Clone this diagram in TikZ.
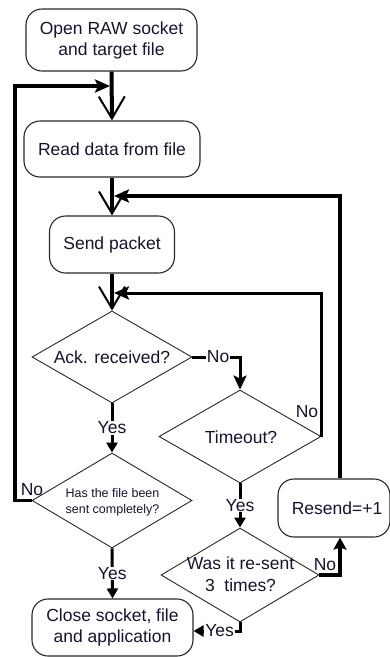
\documentclass[tikz,border=0pt]{standalone}
\usepackage{fontspec}
\setmainfont{Liberation Sans}
\usetikzlibrary{shapes.geometric,arrows.meta}
\definecolor{txtc}{RGB}{20,20,48}
\definecolor{edgec}{RGB}{40,40,40}
\begin{document}
\begin{tikzpicture}[x=1pt,y=-1pt,
  box/.style={draw=edgec,line width=1.1pt,rounded corners=16pt,align=center,inner sep=0pt,text=txtc,font=\fontsize{17.5}{21}\selectfont},
  dia/.style={draw=edgec,line width=0.9pt,diamond,inner sep=0pt},
  dtxt/.style={align=center,text=txtc,inner sep=0pt,font=\fontsize{17.5}{22}\selectfont},
  lbl/.style={text=txtc,fill=white,inner sep=0.8pt,font=\fontsize{17.5}{21}\selectfont},
  nlbl/.style={text=txtc,inner sep=0pt,font=\fontsize{17.5}{21}\selectfont},
  flow/.style={line width=4pt,-{Straight Barb[length=22pt,width=26pt,line width=2pt]}},
  loopline/.style={line width=3.5pt,-{Stealth[length=15pt,width=13pt,inset=3pt]}},
  yesline/.style={line width=3pt,-{Triangle[length=10pt,width=11pt]}},
]
\useasboundingbox (0,0) rectangle (390,657);

% nodes
\node[box,minimum width=171pt,minimum height=62pt] (open) at (111.5,40) {Open RAW socket\\and target file};
\node[box,minimum width=176pt,minimum height=56pt] (read) at (112,149) {Read data from file};
\node[box,minimum width=125pt,minimum height=57pt] (send) at (112,244.5) {Send packet};
\node[dia,minimum width=160pt,minimum height=92pt] (ack) at (112,357) {};
\node[dtxt] (acktxt) at (112,357) {Ack. received?};
\node[dia,minimum width=160pt,minimum height=95pt] (has) at (112,500.5) {};
\node[dtxt,font=\fontsize{12.5}{16}\selectfont] (hastxt) at (112.5,502) {Has the file been\\sent completely?};
\node[dia,minimum width=162pt,minimum height=93pt] (tout) at (240,436.5) {};
\node[dtxt] (touttxt) at (241,437) {Timeout?};
\node[dia,minimum width=158pt,minimum height=94pt] (was) at (240,575) {};
\node[dtxt] (wastxt) at (240.5,574) {Was it re-sent\\3\ \ times?};
\node[box,minimum width=112pt,minimum height=58pt] (resend) at (334,508) {\hspace*{6pt}Resend=+1};
\node[box,minimum width=161pt,minimum height=57pt] (close) at (112.5,627.5) {Close socket, file\\and application};

% helper coordinates
\coordinate (j1) at (110,86);
\coordinate (j2) at (114,196);
\coordinate (j3) at (114,293);
\coordinate (cl) at (15,0);
\coordinate (cr) at (340,0);
\coordinate (cy) at (0,631);

% main flow
\draw[flow] (open.south) -- (read.north);
\draw[flow] (read.south) -- (send.north);
\draw[flow] (send.south) -- (ack.north);

% loops
\draw[loopline] (has.west) -- (has.west -| cl) |- (j1);
\draw[loopline] (resend.north -| cr) |- (j2);
\draw[loopline,line width=3pt] (tout.east) |- (j3);

% decisions
\draw[loopline,line width=3pt,-{Stealth[length=14pt,width=13pt,inset=3pt]}] (ack.east) -| (tout.north) node[lbl,pos=0.27] (ackno) {No};
\draw[yesline] (ack.south) -- (has.north) node[lbl,midway] (ackyes) {Yes};
\draw[yesline] (has.south) -- (close.north) node[lbl,midway] (hasyes) {Yes};
\draw[yesline] (tout.south) -- (was.north) node[lbl,midway] (toutyes) {Yes};
\draw[loopline,-{Stealth[length=12pt,width=13pt,inset=2pt]}] (was.east) -| (resend.south -| cr);
\draw[yesline] (was.south) |- (close.east |- cy) node[lbl,pos=0.72] (wasyes) {Yes};

% free labels
\node[nlbl] (hasno) at (32,490) {No};
\node[nlbl] (toutno) at (307,412) {No};
\node[nlbl] (wasno) at (325,565) {No};
\end{tikzpicture}
\end{document}
